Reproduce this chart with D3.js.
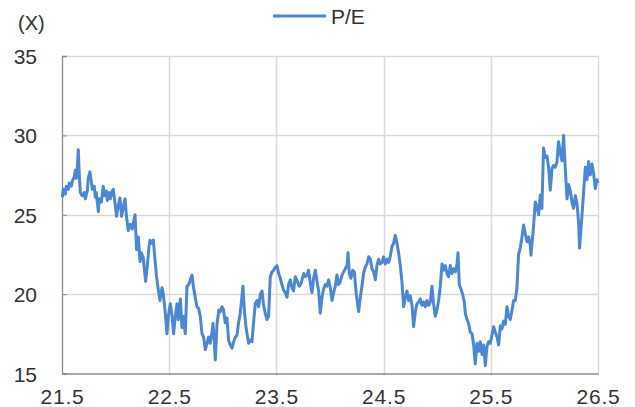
<!DOCTYPE html>
<html>
<head>
<meta charset="utf-8">
<script src="https://cdn.jsdelivr.net/npm/d3@7"></script>
<style>
	body { margin: 0; background: #fff; }
	text { font-family: "Liberation Sans", Arial, sans-serif; fill: #333; }
</style>
</head>
<body>
<svg id="mysvg" width="635" height="407"></svg>
<script>
// x = period (yy.frac), y = P/E (x)
var dates = [
	21.503, 21.512, 21.531, 21.540, 21.559, 21.568, 21.587, 21.596, 21.615, 21.624,
	21.633, 21.643, 21.652, 21.661, 21.671, 21.689, 21.708, 21.717, 21.736, 21.745,
	21.761, 21.773, 21.783, 21.801, 21.811, 21.820, 21.839, 21.848, 21.867, 21.885,
	21.895, 21.913, 21.923, 21.941, 21.951, 21.969, 21.979, 21.993, 22.009, 22.025,
	22.041, 22.056, 22.072, 22.088, 22.100, 22.118, 22.137, 22.156, 22.181, 22.196,
	22.212, 22.228, 22.240, 22.258, 22.268, 22.280, 22.296, 22.310, 22.321, 22.338,
	22.352, 22.366, 22.382, 22.398, 22.414, 22.433, 22.445, 22.461, 22.479, 22.492,
	22.510, 22.524, 22.541, 22.557, 22.573, 22.585, 22.604, 22.619, 22.632, 22.650,
	22.666, 22.683, 22.697, 22.713, 22.725, 22.743, 22.759, 22.774, 22.790, 22.806,
	22.821, 22.837, 22.853, 22.868, 22.883, 22.899, 22.909, 22.921, 22.930, 22.946,
	22.963, 22.977, 22.993, 23.007, 23.023, 23.039, 23.054, 23.070, 23.086, 23.101,
	23.117, 23.132, 23.147, 23.163, 23.188, 23.201, 23.215, 23.226, 23.241, 23.256,
	23.272, 23.287, 23.303, 23.319, 23.334, 23.350, 23.366, 23.378, 23.396, 23.412,
	23.427, 23.443, 23.459, 23.474, 23.490, 23.506, 23.521, 23.536, 23.552, 23.567,
	23.583, 23.599, 23.614, 23.630, 23.646, 23.660, 23.676, 23.695, 23.714, 23.732,
	23.754, 23.770, 23.785, 23.800, 23.816, 23.832, 23.847, 23.863, 23.879, 23.894,
	23.909, 23.925, 23.940, 23.956, 23.972, 23.987, 24.003, 24.019, 24.034, 24.049,
	24.065, 24.080, 24.096, 24.112, 24.127, 24.143, 24.159, 24.168, 24.180, 24.196,
	24.211, 24.227, 24.245, 24.267, 24.283, 24.298, 24.313, 24.329, 24.345, 24.360,
	24.376, 24.392, 24.407, 24.423, 24.438, 24.453, 24.469, 24.485, 24.500, 24.516,
	24.532, 24.547, 24.563, 24.578, 24.593, 24.609, 24.625, 24.640, 24.656, 24.672,
	24.687, 24.703, 24.718, 24.733, 24.749, 24.765, 24.780, 24.796, 24.812, 24.827,
	24.842, 24.858, 24.873, 24.889, 24.905, 24.920, 24.936, 24.951, 24.966, 24.982,
	24.998, 25.013, 25.029, 25.045, 25.060, 25.076, 25.091, 25.106, 25.122, 25.138,
	25.153, 25.169, 25.185, 25.194, 25.206, 25.222, 25.237, 25.253, 25.262, 25.278,
	25.293, 25.309, 25.325, 25.340, 25.355, 25.371, 25.386, 25.402, 25.418, 25.433,
	25.449, 25.464, 25.479, 25.495, 25.511, 25.526, 25.542, 25.558, 25.573, 25.589,
	25.604, 25.619, 25.635, 25.651, 25.666, 25.682, 25.698, 25.713, 25.728, 25.744,
	25.759, 25.775, 25.791, 25.806, 25.822, 25.838, 25.853, 25.868, 25.875, 25.890,
	25.899, 25.915, 25.931, 25.946, 25.962, 25.977, 25.992, 26.008, 26.024, 26.039,
	26.055, 26.071, 26.086, 26.101, 26.117, 26.132, 26.148, 26.164, 26.179, 26.195,
	26.211, 26.226, 26.242, 26.257, 26.272, 26.288, 26.304, 26.319, 26.328, 26.351,
	26.366, 26.382, 26.397, 26.412, 26.428, 26.444, 26.459, 26.475, 26.491, 26.500
];
var pe = [
	26.1, 26.6, 26.3, 26.8, 26.6, 27.0, 26.8, 27.1, 27.4, 27.8,
	27.3, 28.0, 29.1, 27.5, 26.4, 26.2, 26.4, 26.0, 26.5, 27.3,
	27.7, 27.1, 26.6, 26.8, 26.1, 26.4, 25.2, 26.0, 25.8, 26.8,
	26.2, 26.5, 25.9, 26.4, 26.0, 26.5, 26.6, 25.8, 24.9, 25.6,
	26.05, 24.9, 25.5, 26.0, 25.0, 24.0, 24.4, 24.1, 25.0, 22.8,
	23.6, 22.05, 22.6, 22.3, 21.6, 20.8, 21.8, 22.9, 23.4, 23.2,
	23.4, 22.3, 21.1, 20.3, 19.6, 20.4, 20.0, 19.0, 17.5, 18.6,
	19.4, 18.8, 17.5, 18.6, 19.4, 18.4, 19.7, 17.9, 18.6, 17.5,
	20.5, 20.6, 20.9, 21.2, 20.5, 19.8, 19.2, 19.1, 18.6, 17.5,
	17.3, 16.5, 16.9, 17.3, 16.9, 17.6, 18.15, 17.0, 15.85, 18.1,
	19.0, 18.9, 19.2, 19.0, 18.2, 18.5, 17.1, 16.8, 16.6, 17.0,
	17.3, 17.4, 18.2, 18.8, 20.5, 19.0, 18.0, 17.5, 16.9, 17.1,
	17.0, 18.2, 19.4, 19.6, 19.2, 20.0, 20.2, 19.4, 18.8, 18.4,
	18.6, 21.1, 21.4, 21.5, 21.7, 21.8, 21.3, 21.0, 20.6, 20.25,
	20.1, 19.8, 20.6, 20.9, 20.4, 20.2, 21.1, 20.8, 20.5, 20.7,
	21.3, 21.1, 21.2, 21.5, 20.7, 20.1, 21.0, 21.5, 20.8, 20.2,
	18.8, 19.8, 20.3, 20.6, 20.5, 20.9, 20.4, 19.6, 20.1, 20.5,
	21.2, 20.6, 20.8, 21.2, 21.4, 21.6, 21.8, 22.6, 21.3, 21.0,
	21.5, 21.4, 20.0, 18.9, 19.8, 20.5, 21.3, 21.7, 21.9, 22.35,
	22.2, 21.6, 21.4, 20.9, 21.8, 22.2, 21.9, 22.0, 22.35, 21.9,
	22.2, 22.0, 22.4, 23.0, 23.2, 23.7, 23.2, 22.6, 21.8, 20.7,
	19.2, 19.8, 20.2, 19.6, 19.9, 19.3, 17.95, 18.9, 19.4, 19.5,
	19.7, 19.3, 19.5, 19.2, 19.6, 19.3, 19.5, 20.5, 19.4, 18.6,
	19.0, 19.6, 20.5, 21.9, 21.5, 21.8, 21.3, 21.1, 21.8, 21.3,
	21.6, 21.4, 21.9, 22.6, 20.6, 20.3, 20.0, 19.5, 18.8, 18.4,
	18.15, 17.6, 17.5, 16.8, 15.6, 16.9, 16.4, 17.0, 16.2, 16.8,
	15.5, 16.7, 17.0, 16.9, 17.4, 17.95, 17.6, 17.3, 16.8, 18.0,
	17.8, 18.3, 18.1, 19.2, 18.6, 18.4, 19.0, 19.6, 19.6, 20.4,
	22.5, 22.9, 23.6, 24.35, 23.8, 23.3, 23.6, 23.1, 22.45, 23.6,
	24.3, 25.8, 25.5, 25.0, 26.25, 25.4, 29.2, 28.6, 28.7, 28.0,
	26.55, 27.9, 28.1, 28.0, 28.3, 29.6, 28.9, 28.4, 30.0, 27.9,
	26.0, 26.9, 26.5, 25.8, 25.4, 26.2, 25.7, 24.5, 22.9, 25.0,
	26.45, 28.0, 27.2, 28.35, 27.5, 28.2, 27.6, 26.65, 27.2, 27.0
];
var xTicks = [21.5, 22.5, 23.5, 24.5, 25.5, 26.5];
var yTicks = [15, 20, 25, 30, 35];
var seriesName = "P/E";
var unitLabel = "(X)";

var lineColor = "#4a88d6";
var gridColor = "#d9d9d9";
var axisColor = "#8c8c8c";

function drawChart () {
	var svg = d3.select("#mysvg");
	var pLeft = 62, pRight = 598, pTop = 56, pBottom = 373.5;

	var x = d3.scaleLinear().domain([21.5, 26.5]).range([pLeft, pRight]);
	var y = d3.scaleLinear().domain([15, 35]).range([pBottom, pTop]);

	// grid
	svg.append("g").selectAll("line").data(yTicks.slice(1)).enter().append("line")
		.attr("x1", pLeft).attr("x2", pRight)
		.attr("y1", function (d) { return Math.round(y(d)) + 0.5; })
		.attr("y2", function (d) { return Math.round(y(d)) + 0.5; })
		.attr("stroke", gridColor).attr("stroke-width", 1.5);
	svg.append("g").selectAll("line").data(xTicks.slice(1)).enter().append("line")
		.attr("x1", function (d) { return Math.round(x(d)) + 0.5; })
		.attr("x2", function (d) { return Math.round(x(d)) + 0.5; })
		.attr("y1", pTop).attr("y2", pBottom + 2)
		.attr("stroke", gridColor).attr("stroke-width", 1.5);

	// axes
	var yAxis = svg.append("g")
		.attr("transform", "translate(" + pLeft + ",0)")
		.call(d3.axisLeft(y).tickValues(yTicks).tickSize(-5).tickPadding(25));
	var xAxis = svg.append("g")
		.attr("transform", "translate(0," + pBottom + ")")
		.call(d3.axisBottom(x).tickValues(xTicks).tickSize(0).tickPadding(16).tickFormat(d3.format(".1f")));

	yAxis.select(".domain").attr("stroke", axisColor).attr("stroke-width", 1.3);
	yAxis.selectAll(".tick line").attr("stroke", axisColor);
	xAxis.select(".domain").attr("stroke", axisColor).attr("stroke-width", 1.3);
	svg.selectAll(".tick text")
		.attr("fill", "#333")
		.style("font-size", "21px")
		.style("font-family", "'Liberation Sans', Arial, sans-serif");
	yAxis.selectAll(".tick text").attr("x", -25).attr("dy", "0.36em");
	xAxis.selectAll(".tick text").style("letter-spacing", "0.8px");

	// series
	var line = d3.line()
		.x(function (d, i) { return x(dates[i]); })
		.y(function (d) { return y(d); });

	svg.append("path")
		.datum(pe)
		.attr("d", line)
		.attr("fill", "none")
		.attr("stroke", lineColor)
		.attr("stroke-width", 3)
		.attr("stroke-linejoin", "round");

	// unit + legend
	svg.append("text").attr("x", 18).attr("y", 30)
		.style("font-size", "20px").text(unitLabel);

	svg.append("line")
		.attr("x1", 273).attr("x2", 326).attr("y1", 16).attr("y2", 16)
		.attr("stroke", lineColor).attr("stroke-width", 3);
	svg.append("text").attr("x", 331).attr("y", 24)
		.style("font-size", "21px").text(seriesName);
}

drawChart();
</script>
</body>
</html>
